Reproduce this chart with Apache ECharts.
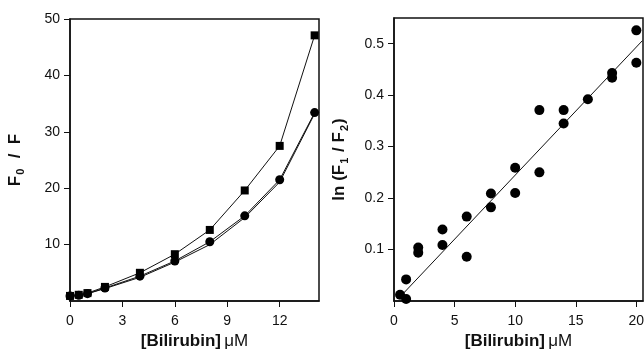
<!DOCTYPE html>
<html>
<head>
<meta charset="utf-8">
<script src="https://cdn.jsdelivr.net/npm/echarts@6/dist/echarts.min.js"></script>
<style>
  html, body { margin: 0; padding: 0; background: #fff; }
  #main { width: 644px; height: 349px; }
</style>
</head>
<body>
<div id="main"></div>
<script>
// left panel: F0/F vs bilirubin
const leftX = [0, 0.5, 1, 2, 4, 6, 8, 10, 12, 14];
const squareVals = [0.9, 1.1, 1.4, 2.5, 5.0, 8.3, 12.6, 19.6, 27.5, 47.1];
const circleVals = [0.9, 1.0, 1.3, 2.3, 4.4, 7.1, 10.5, 15.1, 21.5, 33.4];
const lowerVals  = [0.9, 1.0, 1.3, 2.2, 4.2, 6.9, 10.0, 14.8, 21.1, 33.2];

// right panel: ln(F1/F2) vs bilirubin
const scatterX = [0.5, 1, 1, 2, 2, 4, 4, 6, 6, 8, 8, 10, 10, 12, 12, 14, 14, 16, 18, 18, 20, 20];
const scatterY = [0.012, 0.042, 0.004, 0.104, 0.094, 0.139, 0.109, 0.164, 0.086, 0.209, 0.182,
                  0.259, 0.210, 0.371, 0.250, 0.371, 0.345, 0.392, 0.443, 0.434, 0.526, 0.463];
const fitX = [0.5, 20.5];
const fitY = [0.008, 0.506];

const pairs = (xs, ys) => xs.map((x, i) => [x, ys[i]]);

const chart = echarts.init(document.getElementById('main'));

const axisFont = { fontFamily: 'Liberation Sans, Arial', fontSize: 14, color: '#111' };
const nameRich = {
  b: { fontFamily: 'Liberation Sans, Arial', fontWeight: 'bold', fontSize: 17, color: '#111', lineHeight: 22 },
  n: { fontFamily: 'Liberation Sans, Arial', fontSize: 17, color: '#111', lineHeight: 22 },
  s: { fontFamily: 'Liberation Sans, Arial', fontWeight: 'bold', fontSize: 11, color: '#111', lineHeight: 22, verticalAlign: 'bottom', padding: [9, 1, 0, 1] }
};
const axLine = { show: true, lineStyle: { color: '#111', width: 1.5 } };
const tick = { show: true, inside: false, length: 6, lineStyle: { color: '#111', width: 1 } };

option = {
  animation: false,
  backgroundColor: '#fff',
  grid: [
    { left: 70, top: 19, width: 249, height: 282, outerBoundsMode: 'none', containLabel: false,
      show: true, borderColor: '#111', borderWidth: 1.5 },
    { left: 394, top: 18, width: 249, height: 283, outerBoundsMode: 'none', containLabel: false,
      show: true, borderColor: '#111', borderWidth: 1.5 }
  ],
  xAxis: [
    {
      gridIndex: 0, type: 'value', min: 0, max: 14.25, interval: 3,
      splitLine: { show: false }, axisLine: axLine, axisTick: tick,
      axisLabel: Object.assign({ margin: 13, showMaxLabel: false }, axisFont),
      name: '{b|[Bilirubin]} {n|μM}', nameLocation: 'middle', nameGap: 29,
      nameTextStyle: { rich: nameRich }
    },
    {
      gridIndex: 1, type: 'value', min: 0, max: 20.55, interval: 5,
      splitLine: { show: false }, axisLine: axLine, axisTick: tick,
      axisLabel: Object.assign({ margin: 13, showMaxLabel: false }, axisFont),
      name: '{b|[Bilirubin]} {n|μM}', nameLocation: 'middle', nameGap: 29,
      nameTextStyle: { rich: nameRich }
    }
  ],
  yAxis: [
    {
      gridIndex: 0, type: 'value', min: 0, max: 50, interval: 10,
      splitLine: { show: false }, axisLine: axLine, axisTick: tick,
      axisLabel: Object.assign({ margin: 10, showMinLabel: false }, axisFont),
      name: '{b|F}{s|0}{b|  /  F}', nameLocation: 'middle', nameGap: 44,
      nameTextStyle: { rich: nameRich }
    },
    {
      gridIndex: 1, type: 'value', min: 0, max: 0.55, interval: 0.1,
      splitLine: { show: false }, axisLine: axLine, axisTick: tick,
      axisLabel: Object.assign({ margin: 10, showMinLabel: false, showMaxLabel: false,
        formatter: v => v.toFixed(1) }, axisFont),
      name: '{b|ln (F}{s|1}{b| / F}{s|2}{b|)}', nameLocation: 'middle', nameGap: 44,
      nameTextStyle: { rich: nameRich }
    }
  ],
  series: [
    {
      type: 'line', xAxisIndex: 0, yAxisIndex: 0, data: pairs(leftX, lowerVals),
      showSymbol: false, lineStyle: { color: '#111', width: 1 }, z: 2
    },
    {
      type: 'line', xAxisIndex: 0, yAxisIndex: 0, data: pairs(leftX, circleVals),
      symbol: 'circle', symbolSize: 9, itemStyle: { color: '#000' },
      lineStyle: { color: '#111', width: 1 }, z: 3
    },
    {
      type: 'line', xAxisIndex: 0, yAxisIndex: 0, data: pairs(leftX, squareVals),
      symbol: 'rect', symbolSize: 8, itemStyle: { color: '#000' },
      lineStyle: { color: '#111', width: 1 }, z: 4
    },
    {
      type: 'line', xAxisIndex: 1, yAxisIndex: 1, data: pairs(fitX, fitY),
      showSymbol: false, lineStyle: { color: '#111', width: 1 }, z: 2
    },
    {
      type: 'scatter', xAxisIndex: 1, yAxisIndex: 1, data: pairs(scatterX, scatterY),
      symbol: 'circle', symbolSize: 10, itemStyle: { color: '#000', opacity: 1 }, z: 3
    }
  ]
};

chart.setOption(option);
</script>
</body>
</html>
